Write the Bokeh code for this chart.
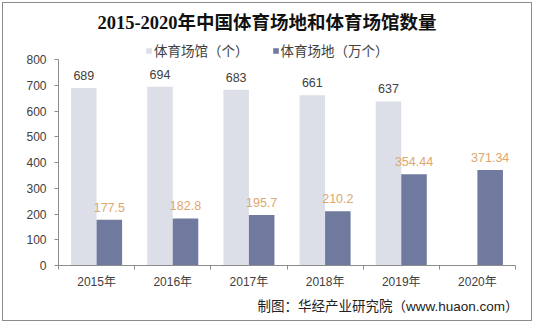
from bokeh.plotting import figure
from bokeh.models import (ColumnDataSource, Range1d, FixedTicker, LabelSet, Label,
                          Legend, LegendItem, Title)
from bokeh.core.properties import value
from bokeh.transform import dodge
from bokeh.embed import file_html
from bokeh.resources import INLINE

years = ["2015年", "2016年", "2017年", "2018年", "2019年", "2020年"]
venues = [689, 694, 683, 661, 637, float("nan")]
sites = [177.5, 182.8, 195.7, 210.2, 354.44, 371.34]
venue_labels = ["689", "694", "683", "661", "637", ""]
site_labels = ["177.5", "182.8", "195.7", "210.2", "354.44", "371.34"]
y_ticks = [0, 100, 200, 300, 400, 500, 600, 700, 800]

title_text = "2015-2020年中国体育场地和体育场馆数量"
venue_name = "体育场馆（个）"
site_name = "体育场地（万个）"
source_text = "制图：华经产业研究院（www.huaon.com）"

LIGHT = "#DCDFE7"
DARK = "#6F7A9E"
LABEL_ORANGE = "#E0A66E"
TEXT = "#404040"
AXIS = "#8C8C8C"
CJK = "'Liberation Sans', 'Noto Sans CJK SC'"

# frame spans from the top of the canvas down to the x axis (y=265 px);
# 800 units = 206 px, so the top of the frame is at 265/206*800 units
y_top = 265 / 206 * 800

xc = [i + 0.5 for i in range(len(years))]
src = ColumnDataSource(dict(x=xc, venues=venues, sites=sites,
                            vl=venue_labels, sl=site_labels))

p = figure(width=534, height=323, x_range=Range1d(0, len(years)), y_range=Range1d(0, y_top),
           output_backend="svg", toolbar_location=None,
           min_border_left=58, min_border_right=19, min_border_top=0, min_border_bottom=58)
p.title.visible = False
p.border_fill_color = None
p.background_fill_color = None
p.outline_line_color = None
p.grid.grid_line_color = None
p.styles = {"background-color": "white",
            "box-shadow": "inset 0 0 0 2px white, inset 0 0 0 3px #8C8C8C"}

bw = 0.335
off = bw / 2
r1 = p.vbar(x=dodge("x", -off), top="venues", width=bw, source=src,
            fill_color=LIGHT, line_color=None)
r2 = p.vbar(x=dodge("x", off), top="sites", width=bw, source=src,
            fill_color=DARK, line_color=None)

p.add_layout(LabelSet(x=dodge("x", -off), y="venues", text="vl", source=src,
                      text_align="center", text_baseline="middle", y_offset=12.5,
                      text_font=value(CJK), text_font_size=value("12.5px"),
                      text_color=value(TEXT)))
p.add_layout(LabelSet(x=dodge("x", off), y="sites", text="sl", source=src,
                      text_align="center", text_baseline="middle", y_offset=12.5,
                      text_font=value(CJK), text_font_size=value("12.5px"),
                      text_color=value(LABEL_ORANGE)))

# axes
xa = p.xaxis[0]
xa.ticker = FixedTicker(ticks=xc, minor_ticks=list(range(len(years) + 1)))
xa.major_label_overrides = {x: y for x, y in zip(xc, years)}
xa.major_tick_out = 0
xa.major_tick_in = 0
xa.minor_tick_out = 4
xa.minor_tick_in = 0
xa.minor_tick_line_color = AXIS
xa.axis_line_color = AXIS
xa.major_label_standoff = 5
xa.major_label_text_font = CJK
xa.major_label_text_font_size = "12px"
xa.major_label_text_color = TEXT

ya = p.yaxis[0]
ya.ticker = FixedTicker(ticks=y_ticks, minor_ticks=[])
ya.bounds = (0, 800)
ya.major_tick_out = 4
ya.major_tick_in = 0
ya.major_tick_line_color = AXIS
ya.minor_tick_line_color = None
ya.axis_line_color = AXIS
ya.major_label_standoff = 8
ya.major_label_text_font = CJK
ya.major_label_text_font_size = "12px"
ya.major_label_text_color = TEXT

legend = Legend(items=[LegendItem(label=venue_name, renderers=[r1]),
                       LegendItem(label=site_name, renderers=[r2])],
                location=(87, 205), orientation="horizontal",
                glyph_width=7, glyph_height=7, label_standoff=2, spacing=23,
                padding=0, margin=0, border_line_color=None, background_fill_alpha=0,
                label_text_font="'Noto Sans CJK SC'", label_text_font_size="13.5px",
                label_text_color=TEXT, label_height=20)
p.add_layout(legend)

p.add_layout(Label(x=208.5, y=243, x_units="screen", y_units="screen", text=title_text,
                   text_align="center", text_baseline="middle",
                   text_font="'Liberation Serif', 'Noto Sans CJK SC'",
                   text_font_style="bold", text_font_size="18.5px", text_color="#111111"))

p.add_layout(Title(text=source_text, align="right", offset=-3,
                   text_font=CJK, text_font_style="normal", text_font_size="13.5px",
                   text_color="#222222"), "below")

open("out.html", "w").write(file_html(p, INLINE))
